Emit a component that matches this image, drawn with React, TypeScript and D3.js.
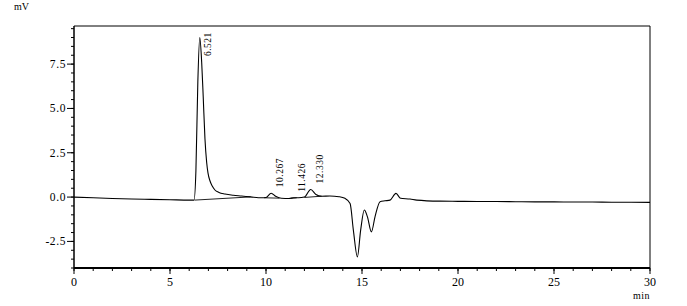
import React from "react";
import * as d3 from "d3";

// Chromatogram trace: retention time (min) and signal (mV)
const traceTime = [
  0.0, 1.0, 2.0, 3.0, 4.0, 5.0, 6.0, 6.25, 6.35, 6.45, 6.55, 6.65, 6.73, 6.82, 6.91, 6.98,
  7.08, 7.2, 7.34, 7.55, 7.86, 8.3, 8.73, 9.2, 9.78, 10.0, 10.27, 10.5, 10.8, 11.2, 11.43,
  11.7, 12.0, 12.33, 12.6, 12.9, 13.33, 13.8, 14.11, 14.38, 14.55, 14.76, 14.93, 15.12,
  15.28, 15.49, 15.68, 15.94, 16.2, 16.46, 16.77, 17.01, 17.5, 17.85, 19.06, 20, 21, 22,
  23, 24, 25, 26, 27, 28, 29, 30,
];
const traceSignal = [
  0.0, -0.04, -0.08, -0.11, -0.13, -0.15, -0.17, -0.17, 1.5, 6.5, 9.0, 7.6, 5.66, 3.3, 1.95, 1.35,
  0.92, 0.62, 0.4, 0.26, 0.17, 0.1, 0.06, 0.01, -0.04, -0.02, 0.22, 0.05, -0.07, -0.08, -0.04,
  -0.04, 0.0, 0.43, 0.15, 0.05, 0.06, 0.02, -0.07, -0.36, -1.86, -3.37, -1.86, -0.73,
  -1.1, -1.96, -1.1, -0.26, -0.21, -0.17, 0.21, -0.07, -0.11, -0.17, -0.23, -0.24, -0.25, -0.25,
  -0.26, -0.27, -0.27, -0.28, -0.28, -0.29, -0.29, -0.3,
];

// Integration baselines drawn under peaks: [startTime, startValue, endTime, endValue]
const baselineStartTime = [6.28, 9.9, 11.3, 12.0];
const baselineStartValue = [-0.17, -0.04, -0.07, -0.02];
const baselineEndTime = [9.2, 10.7, 11.6, 12.9];
const baselineEndValue = [0.01, -0.06, -0.04, 0.05];

// Peak labels
const peakTimes = [6.521, 10.267, 11.426, 12.33];
const peakLabels = ["6.521", "10.267", "11.426", "12.330"];
const peakHeights = [9.0, 0.22, -0.04, 0.43];

// Axis ticks
const xMajorTicks = [0, 5, 10, 15, 20, 25, 30];
const yMajorTicks = [-2.5, 0, 2.5, 5, 7.5];
const yTickLabels = ["-2.5", "0.0", "2.5", "5.0", "7.5"];

const W = 687;
const H = 306;

export default function App() {
  const x = d3.scaleLinear().domain([0, 30]).range([74, 650]);
  const y = d3.scaleLinear().domain([-4, 9.65]).range([268, 26]);

  const pts: [number, number][] = traceTime.map((t, i) => [t, traceSignal[i]]);
  const line = d3
    .line<[number, number]>()
    .x((d) => x(d[0]))
    .y((d) => y(d[1]))
    .curve(d3.curveMonotoneX);

  const xMinor = d3.range(0, 31, 1);
  const yMinor = d3.range(-4, 9.6, 0.5);

  const font = "'Liberation Serif', 'DejaVu Serif', serif";
  const [x0, x1] = x.range();
  const [yb, yt] = y.range();

  const labelSize = 9.5;
  const labelLen = (s: string) => s.length * 4.6;

  return (
    <svg
      width={W}
      height={H}
      style={{ position: "absolute", left: 0, top: 0, display: "block", background: "#fff" }}
      fontFamily={font}
    >
      <rect x={0} y={0} width={W} height={H} fill="#fff" />
      {/* frame top and right */}
      <line x1={x0} y1={yt} x2={x1} y2={yt} stroke="#000" strokeWidth={1} />
      <line x1={x1} y1={yt} x2={x1} y2={yb} stroke="#000" strokeWidth={1} />

      {/* y axis */}
      <line x1={x0} y1={yt} x2={x0} y2={yb} stroke="#000" strokeWidth={1.5} />
      {yMinor.map((v, i) => (
        <line key={"ym" + i} x1={x0 - 3} x2={x0} y1={y(v)} y2={y(v)} stroke="#000" strokeWidth={1} />
      ))}
      {yMajorTicks.map((v, i) => (
        <g key={"yt" + i}>
          <line x1={x0 - 7} x2={x0} y1={y(v)} y2={y(v)} stroke="#000" strokeWidth={1} />
          <text
            x={x0 - 8}
            y={y(v)}
            dy="0.35em"
            textAnchor="end"
            fontSize={11.5}
            letterSpacing={0.6}
            fill="#000"
          >
            {yTickLabels[i]}
          </text>
        </g>
      ))}

      {/* x axis */}
      <line x1={x0} y1={yb} x2={x1} y2={yb} stroke="#000" strokeWidth={2} />
      {xMinor.map((t, i) => (
        <line key={"xm" + i} x1={x(t)} x2={x(t)} y1={yb} y2={yb + 3} stroke="#000" strokeWidth={1} />
      ))}
      {xMajorTicks.map((t, i) => (
        <g key={"xt" + i}>
          <line x1={x(t)} x2={x(t)} y1={yb} y2={yb + 6} stroke="#000" strokeWidth={1} />
          <text x={x(t)} y={yb + 18} textAnchor="middle" fontSize={12} fill="#000">
            {String(t)}
          </text>
        </g>
      ))}
      <text x={x1} y={299} textAnchor="end" fontSize={10} letterSpacing={0.5} fill="#000">
        min
      </text>
      <text x={14} y={10} fontSize={10} fill="#000">
        mV
      </text>

      {/* integration baselines */}
      {baselineStartTime.map((t, i) => (
        <line
          key={"bl" + i}
          x1={x(t)}
          y1={y(baselineStartValue[i])}
          x2={x(baselineEndTime[i])}
          y2={y(baselineEndValue[i])}
          stroke="#222"
          strokeWidth={1}
        />
      ))}

      {/* trace */}
      <path d={line(pts) || ""} fill="none" stroke="#000" strokeWidth={1.1} />

      {/* peak labels */}
      {peakTimes.map((t, i) => {
        const len = labelLen(peakLabels[i]);
        let start = y(peakHeights[i]) - 6;
        if (start - len < yt + 7) start = yt + 7 + len;
        return (
          <text
            key={"pl" + i}
            transform={`translate(${x(t) + 12},${start}) rotate(-90)`}
            fontSize={labelSize}
            letterSpacing={0.5}
            fill="#000"
          >
            {peakLabels[i]}
          </text>
        );
      })}
    </svg>
  );
}
